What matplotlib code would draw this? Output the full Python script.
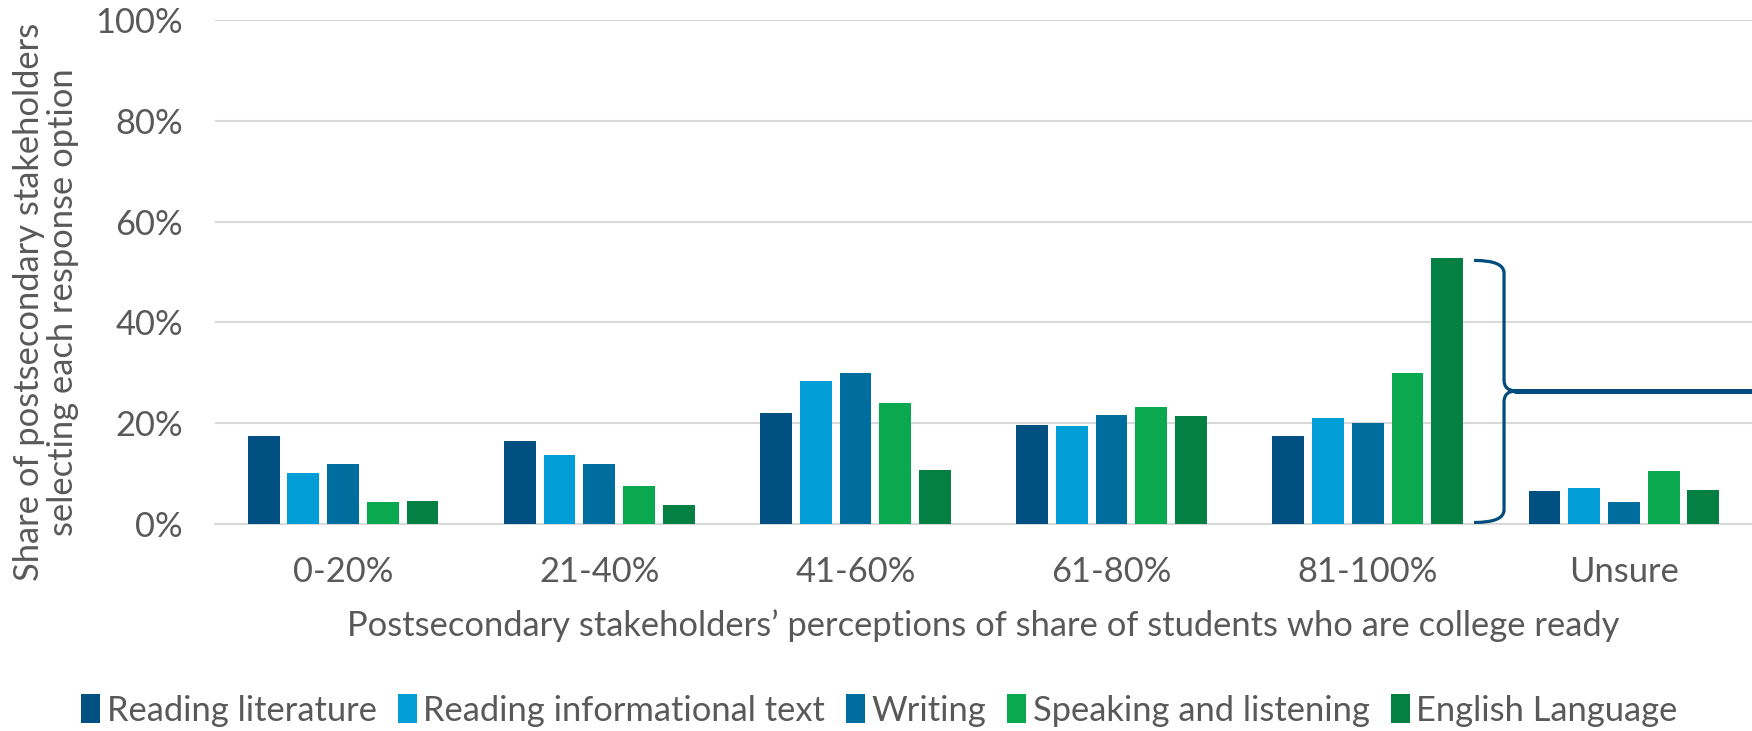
import numpy as np
import matplotlib.pyplot as plt
from matplotlib.path import Path
from matplotlib.patches import PathPatch

# Categorias e séries (valores em fração)
categorias = ['0-20%', '21-40%', '41-60%', '61-80%', '81-100%', 'Unsure']
reading_literature = [0.175, 0.165, 0.220, 0.197, 0.175, 0.066]
reading_informational = [0.102, 0.137, 0.284, 0.195, 0.211, 0.072]
writing = [0.119, 0.119, 0.300, 0.216, 0.200, 0.044]
speaking_listening = [0.044, 0.076, 0.240, 0.232, 0.300, 0.106]
english_language = [0.046, 0.038, 0.108, 0.215, 0.527, 0.068]

series = [
    ('Reading literature', reading_literature, '#005082'),
    ('Reading informational text', reading_informational, '#009DD6'),
    ('Writing', writing, '#006D9F'),
    ('Speaking and listening', speaking_listening, '#0AA84F'),
    ('English Language', english_language, '#048142'),
]

plt.rcParams['font.family'] = ['Lato', 'DejaVu Sans']
cor_texto = '#595959'
tam = 24.8

fig = plt.figure(figsize=(17.52, 7.31), dpi=100)
ax = fig.add_axes([215 / 1752, 1 - 524 / 731, (1752 - 215) / 1752, (524 - 20) / 731])

x = np.arange(len(categorias))
largura = 0.124
passo = 0.155
for i, (nome, valores, cor) in enumerate(series):
    ax.bar(x + (i - 2) * passo, valores, width=largura, color=cor, label=nome, zorder=3)

ax.set_xlim(-0.5, len(categorias) - 0.5)
ax.set_ylim(0, 1)
ax.set_yticks(np.arange(0, 1.01, 0.2))
ax.set_yticklabels([f'{int(v * 100)}%' for v in np.arange(0, 1.01, 0.2)])
ax.set_xticks(x)
ax.set_xticklabels(categorias)
ax.tick_params(axis='both', length=0, labelsize=tam, colors=cor_texto)
ax.tick_params(axis='y', pad=23)
ax.tick_params(axis='x', pad=23)
ax.grid(axis='y', color='#D9D9D9', linewidth=1.5, zorder=0)
for lado in ['top', 'right', 'left']:
    ax.spines[lado].set_visible(False)
ax.spines['bottom'].set_color('#D9D9D9')
ax.spines['bottom'].set_linewidth(1.5)

ax.set_xlabel('Postsecondary stakeholders\u2019 perceptions of share of students who are college ready',
              fontsize=tam, color=cor_texto, labelpad=15)
ax.set_ylabel('Share of postsecondary stakeholders\nselecting each response option',
              fontsize=tam, color=cor_texto, labelpad=12, linespacing=1.05)
ax.yaxis.label.set_y(0.44)  # rótulo deslocado para baixo como no original

# Chave (bracket) ao lado do grupo 81-100%
ext_dir = 4 + 2 * passo + largura / 2
xl = ext_dir + 0.043
xv = xl + 0.117
xt = xv + 0.047
yt, yb = 0.523, 0.003
ym = 0.264
verts = [(xl, yt), (xv, yt), (xv, yt - 0.025),
         (xv, ym + 0.022),
         (xv, ym), (xt, ym),
         (xv, ym), (xv, ym - 0.022),
         (xv, yb + 0.025),
         (xv, yb), (xl, yb)]
codes = [Path.MOVETO, Path.CURVE3, Path.CURVE3,
         Path.LINETO,
         Path.CURVE3, Path.CURVE3,
         Path.CURVE3, Path.CURVE3,
         Path.LINETO,
         Path.CURVE3, Path.CURVE3]
ax.add_patch(PathPatch(Path(verts, codes), facecolor='none', edgecolor='#004C7F',
                       linewidth=2.3, clip_on=False, zorder=4))
ax.plot([xt - 0.01, 5.6], [ym, ym], color='#004C7F', linewidth=3.6,
        solid_capstyle='butt', clip_on=False, zorder=4)

fig.legend(loc='center', bbox_to_anchor=(0.502, 0.028), ncol=5, frameon=False,
           fontsize=tam, labelcolor=cor_texto, handlelength=0.55, handleheight=0.9,
           handletextpad=0.2, columnspacing=0.6)

fig.savefig('out.png', dpi=100)
